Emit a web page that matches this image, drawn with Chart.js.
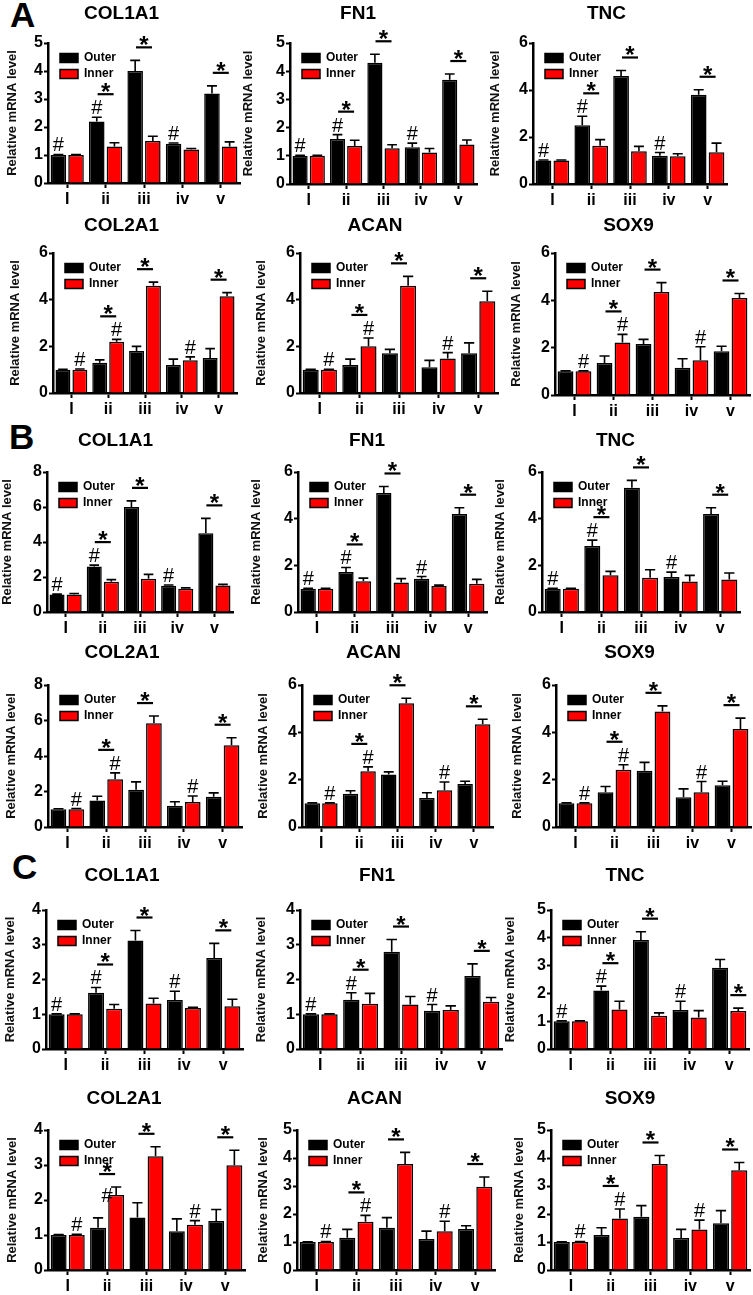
<!DOCTYPE html>
<html><head><meta charset="utf-8">
<script src="https://cdn.jsdelivr.net/npm/chart.js@4"></script>
<style>
html,body{margin:0;padding:0;background:#fff;}
#wrap{position:relative;width:753px;height:1295px;overflow:hidden;background:#fff;}
#wrap canvas{position:absolute;}
.panel{position:absolute;font:bold 35px "Liberation Sans",Arial,sans-serif;line-height:35px;color:#000;}
</style></head><body><div id="wrap">
<div class="panel" style="left:10px;top:-3px">A</div>
<div class="panel" style="left:9px;top:419px">B</div>
<div class="panel" style="left:12px;top:849px">C</div>
</div>
<script>
const categories = ['I','ii','iii','iv','v'];
const seriesNames = ['Outer','Inner'];
const genes = ['COL1A1','FN1','TNC','COL2A1','ACAN','SOX9'];
const yAxisTitle = 'Relative mRNA level';

const A_yMax = [5,5,6,6,6,6];
const A_yStep = [1,1,2,2,2,2];
const B_yMax = [8,6,6,8,6,6];
const B_yStep = [2,2,2,2,2,2];
const C_yMax = [4,4,5,4,5,5];
const C_yStep = [1,1,1,1,1,1];

const A_outer = [[1.0,2.2,4.0,1.4,3.2],[1.0,1.6,4.3,1.3,3.7],[1.0,2.5,4.6,1.2,3.8],[1.0,1.3,1.8,1.2,1.5],[1.0,1.2,1.7,1.1,1.7],[1.0,1.35,2.15,1.15,1.85]];
const A_outerErr = [[0.02,0.15,0.38,0.03,0.27],[0.02,0.15,0.3,0.15,0.2],[0.02,0.38,0.23,0.14,0.21],[0.02,0.12,0.2,0.25,0.4],[0.02,0.25,0.17,0.3,0.45],[0.02,0.3,0.2,0.38,0.21]];
const A_inner = [[1.0,1.3,1.5,1.2,1.3],[1.0,1.35,1.27,1.12,1.4],[1.0,1.63,1.39,1.18,1.35],[1.0,2.2,4.6,1.4,4.15],[1.0,2.0,4.6,1.48,3.93],[1.0,2.22,4.35,1.47,4.1]];
const A_innerErr = [[0.02,0.14,0.17,0.03,0.17],[0.02,0.2,0.12,0.14,0.16],[0.02,0.26,0.21,0.11,0.39],[0.03,0.1,0.15,0.15,0.15],[0.02,0.36,0.4,0.25,0.43],[0.02,0.34,0.4,0.57,0.19]];

const B_outer = [[1.0,2.6,6.0,1.5,4.5],[1.0,1.71,5.1,1.42,4.2],[1.0,2.83,5.33,1.5,4.2],[1.0,1.5,2.1,1.2,1.7],[1.0,1.41,2.22,1.23,1.82],[1.0,1.47,2.38,1.26,1.76]];
const B_outerErr = [[0.02,0.08,0.35,0.04,0.85],[0.02,0.2,0.28,0.1,0.27],[0.02,0.25,0.31,0.21,0.27],[0.03,0.23,0.44,0.22,0.22],[0.02,0.12,0.11,0.22,0.11],[0.02,0.24,0.35,0.35,0.17]];
const B_inner = [[1.0,1.73,1.9,1.33,1.52],[1.0,1.32,1.26,1.11,1.21],[1.0,1.57,1.47,1.31,1.39],[1.0,2.69,5.84,1.41,4.61],[1.0,2.36,5.23,1.55,4.34],[1.0,2.42,4.88,1.47,4.14]];
const B_innerErr = [[0.06,0.12,0.25,0.05,0.06],[0.02,0.13,0.17,0.04,0.19],[0.02,0.17,0.34,0.26,0.28],[0.04,0.36,0.41,0.34,0.42],[0.02,0.18,0.21,0.35,0.21],[0.02,0.21,0.24,0.45,0.46]];

const C_outer = [[1.0,1.62,3.12,1.41,2.62],[1.0,1.42,2.8,1.1,2.1],[1.0,2.1,3.92,1.4,2.92],[1.0,1.21,1.5,1.11,1.4],[1.0,1.15,1.51,1.11,1.46],[1.0,1.25,1.9,1.14,1.67]];
const C_outerErr = [[0.01,0.15,0.29,0.25,0.42],[0.01,0.2,0.35,0.18,0.35],[0.01,0.16,0.3,0.32,0.3],[0.01,0.28,0.42,0.35,0.33],[0.01,0.3,0.36,0.28,0.12],[0.01,0.26,0.4,0.31,0.45]];
const C_inner = [[1.0,1.16,1.31,1.18,1.23],[1.0,1.3,1.28,1.12,1.36],[1.0,1.42,1.2,1.13,1.37],[1.0,2.14,3.25,1.29,2.99],[1.0,1.72,3.79,1.38,2.97],[1.0,1.84,3.79,1.45,3.56]];
const C_innerErr = [[0.01,0.12,0.15,0.02,0.2],[0.01,0.3,0.23,0.12,0.12],[0.01,0.3,0.1,0.25,0.1],[0.02,0.23,0.27,0.12,0.43],[0.02,0.23,0.41,0.36,0.35],[0.02,0.34,0.3,0.33,0.28]];

// significance marks: '#' over which series (0 Outer, 1 Inner) per gene, groups with '#', groups with '*'
const hashSeries = [0,0,0,1,1,1];
const hashGroups = [0,1,3];
const starGroups = [1,2,4];
const innerOnlyStars = {C_TNC:[4]};
const lowHashes = {C_COL2A1:[1]};

// layout frames: [axisLeft, plotTop, plotRight, plotBottom, titleCenterY, yTitleCenterX]
const frames = {
  A:[[48,43,240,183,13,12.5],[290,43,477,184,13,248.5],[533,43,727,184,13,496],[53,253,237,393,225,16],[300,253,498,393,225,262],[555,253,750,395,225,517]],
  B:[[47,472,233,612,440,8],[298,472,487,612,440,257],[542,472,740,612,440,501],[48,685,242,827,652,12],[302,685,493,827,652,264],[556,685,751,827,652,518]],
  C:[[46,910,243,1049,875,11],[300,910,502,1049,875,262],[551,910,749,1049,875,511],[48,1130,245,1270,1098,13],[297,1130,495,1270,1098,264],[551,1130,750,1270,1098,520]]
};

const FAM = '"Liberation Sans", Arial, sans-serif';

const sigMarks = {
  id:'sigMarks',
  afterDatasetsDraw(chart, args, o){
    const ctx = chart.ctx, ys = chart.scales.y, ds = chart.data.datasets;
    const metas = [chart.getDatasetMeta(0), chart.getDatasetMeta(1)];
    const errTop = (d,i) => ys.getPixelForValue(ds[d].data[i] + ds[d].errors[i]);
    ctx.save();
    ctx.strokeStyle = '#000'; ctx.fillStyle = '#000';
    ctx.lineWidth = 1.6;
    [0,1].forEach(d => {
      metas[d].data.forEach((bar, i) => {
        const yt = errTop(d,i); const hw = bar.width*0.32;
        ctx.beginPath();
        ctx.moveTo(bar.x, bar.y); ctx.lineTo(bar.x, yt);
        ctx.moveTo(bar.x - hw, yt); ctx.lineTo(bar.x + hw, yt);
        ctx.stroke();
      });
    });
    ctx.textAlign = 'center'; ctx.textBaseline = 'alphabetic';
    ctx.font = '20px ' + FAM;
    const hashTop = {};
    o.hashGroups.forEach(g => {
      const bar = metas[o.hashSeries].data[g];
      if (o.lowHash.includes(g)) {
        const base = bar.y + 7;
        ctx.fillText('#', bar.x - 9, base);
        return;
      }
      const base = errTop(o.hashSeries, g) - 3;
      ctx.fillText('#', bar.x, base);
      hashTop[g] = base - 14;
    });
    o.starGroups.forEach(g => {
      const innerOnly = o.innerOnly.includes(g);
      const top = innerOnly ? errTop(1,g) : Math.min(errTop(0,g), errTop(1,g));
      let lineY = top - 13;
      if (hashTop[g] !== undefined) lineY = Math.min(lineY, hashTop[g] - 6);
      const cx = innerOnly ? metas[1].data[g].x : (metas[0].data[g].x + metas[1].data[g].x)/2;
      ctx.lineWidth = 2.2;
      ctx.beginPath(); ctx.moveTo(cx-8, lineY); ctx.lineTo(cx+8, lineY); ctx.stroke();
      ctx.font = 'bold 24px ' + FAM;
      const m = ctx.measureText('*');
      ctx.fillText('*', cx, lineY - 2 - m.actualBoundingBoxDescent);
    });
    ctx.restore();
  }
};

const legendPlace = {
  id:'legendPlace',
  afterLayout(chart){
    const lg = chart.legend; if (!lg) return;
    const ca = chart.chartArea;
    lg.left = ca.left + 8; lg.top = ca.top + 5;
    lg.right = ca.right; lg.bottom = ca.bottom;
  }
};

function makeChart(panel, idx, outer, outerErr, inner, innerErr, yMax, yStep){
  const [L,T,R,Bt,ty,lx] = frames[panel][idx];
  const Lx = Math.round(lx - 9.8);
  const yw = L - Lx;
  const Ty = Math.round(ty - 11.4);
  const W = (R - L) + 2*yw;
  const H = Bt + 30 - Ty;
  const cv = document.createElement('canvas');
  cv.width = W; cv.height = H;
  cv.style.left = Lx + 'px'; cv.style.top = Ty + 'px';
  cv.style.width = W + 'px'; cv.style.height = H + 'px';
  document.getElementById('wrap').appendChild(cv);
  const gene = genes[idx];
  const key = panel + '_' + gene;
  new Chart(cv.getContext('2d'), {
    type:'bar',
    data:{
      labels:categories,
      datasets:[
        {label:seriesNames[0], data:outer, errors:outerErr, backgroundColor:'#000000', borderColor:'#000000', borderWidth:1.5, categoryPercentage:0.92, barPercentage:0.88},
        {label:seriesNames[1], data:inner, errors:innerErr, backgroundColor:'#ff0000', borderColor:'#000000', borderWidth:1.5, categoryPercentage:0.92, barPercentage:0.88}
      ]
    },
    options:{
      responsive:false, animation:false, devicePixelRatio:1,
      layout:{padding:{left:0, right:yw, top:0, bottom:0}},
      plugins:{
        title:{display:true, text:gene, color:'#000', font:{family:FAM, size:19, weight:'bold'}, padding:{top:0, bottom:(T - Ty - 22.8)}},
        legend:{position:'chartArea', align:'start', labels:{boxWidth:18, boxHeight:9, padding:4, color:'#000', font:{family:FAM, size:12, weight:'bold'}}},
        tooltip:{enabled:false},
        sigMarks:{hashSeries:hashSeries[idx], hashGroups:hashGroups, starGroups:starGroups, innerOnly:(innerOnlyStars[key]||[]), lowHash:(lowHashes[key]||[])}
      },
      scales:{
        x:{
          grid:{display:true, drawOnChartArea:false, offset:false, tickLength:5, tickWidth:2, tickColor:'#000'},
          border:{display:true, color:'#000', width:2.5},
          ticks:{color:'#000', font:{family:FAM, size:16, weight:'bold'}, padding:2, maxRotation:0, autoSkip:false},
          afterFit(s){ s.height = 30; }
        },
        y:{
          min:0, max:yMax,
          ticks:{stepSize:yStep, color:'#000', font:{family:FAM, size:16, weight:'bold'}, padding:1},
          grid:{display:true, drawOnChartArea:false, tickLength:4, tickWidth:2, tickColor:'#000'},
          border:{display:true, color:'#000', width:2.5},
          title:{display:true, text:yAxisTitle, color:'#111', font:{family:FAM, size:13, weight:'bold'}, padding:{top:2, bottom:0}},
          afterFit(s){ s.width = yw; }
        }
      }
    },
    plugins:[sigMarks, legendPlace]
  });
}

for (let i = 0; i < 6; i++) {
  makeChart('A', i, A_outer[i], A_outerErr[i], A_inner[i], A_innerErr[i], A_yMax[i], A_yStep[i]);
  makeChart('B', i, B_outer[i], B_outerErr[i], B_inner[i], B_innerErr[i], B_yMax[i], B_yStep[i]);
  makeChart('C', i, C_outer[i], C_outerErr[i], C_inner[i], C_innerErr[i], C_yMax[i], C_yStep[i]);
}
</script>
</body></html>
